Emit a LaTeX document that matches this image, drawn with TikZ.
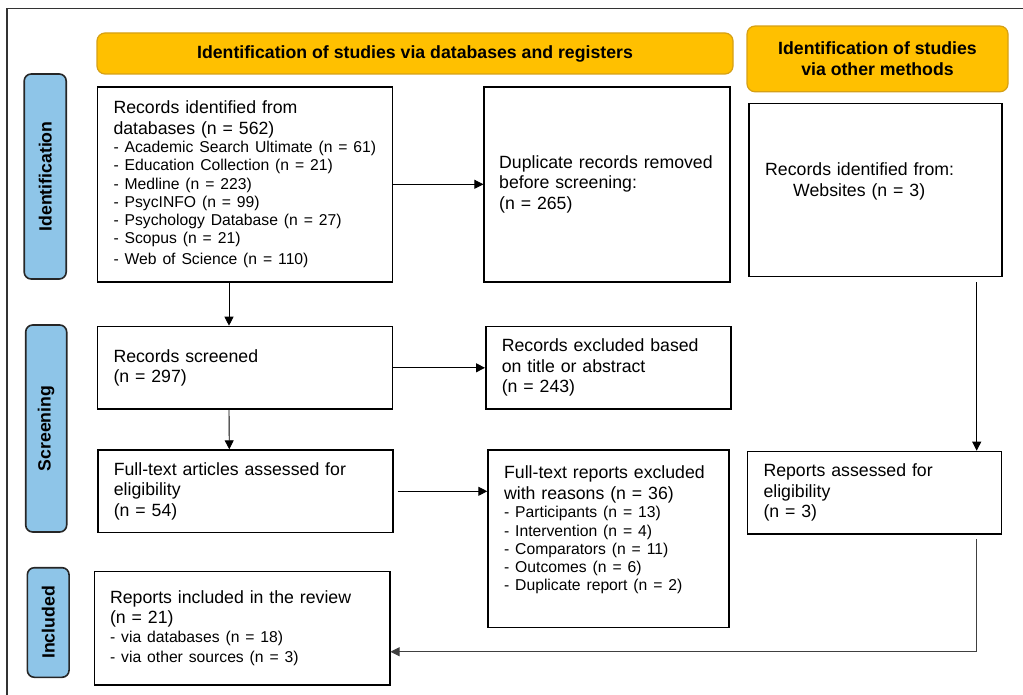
\documentclass[tikz,border=0pt]{standalone}
\usepackage{fontspec}
\setmainfont{Liberation Sans}
\usepackage{tikz}
\usetikzlibrary{arrows.meta}

\definecolor{headfill}{RGB}{255,192,0}
\definecolor{headline}{RGB}{214,160,20}
\definecolor{phasefill}{RGB}{142,197,232}
\newcommand{\boxfont}{\fontsize{17.7pt}{20.5pt}\selectfont}
\newcommand{\listfont}{\fontsize{15.7pt}{18.3pt}\selectfont}

\begin{document}
\begin{tikzpicture}[
  x=1pt, y=-1pt,
  head/.style={rectangle, draw=headline, fill=headfill, line width=1.2pt, rounded corners=8pt, align=center, font=\boxfont\bfseries},
  phase/.style={rectangle, draw=black!85, fill=phasefill, line width=1.6pt, rounded corners=7pt, rotate=90, font=\boxfont\bfseries},
  rec/.style={rectangle, draw, line width=1.6pt, anchor=north west, align=left, inner xsep=16pt, font=\boxfont},
  arrow/.style={-{Triangle[length=9pt, width=9pt]}, line width=0.9pt},
]
  \useasboundingbox (0,0) rectangle (1023,695);

  % Outer frame
  \draw[black!80, line width=1.4pt] (7,695) -- (7,8.5) -- (1023,8.5);

  % Headers
  \node[head, minimum width=636pt, minimum height=41pt] (hdb) at (415,53.5) {Identification of studies via databases and registers};
  \node[head, minimum width=261pt, minimum height=65.7pt] (hoth) at (877.5,58.9) {Identification of studies\\via other methods};

  % Phases
  \node[phase, minimum width=205pt, minimum height=42pt] (pid) at (45.2,176.5) {Identification};
  \node[phase, minimum width=207pt, minimum height=41pt] (pscr) at (46.2,428.5) {Screening};
  \node[phase, minimum width=109.6pt, minimum height=41.7pt] (pinc) at (48.2,622.5) {Included};

  % Identification
  \node[rec, text width=263pt, minimum height=195pt] (db) at (96.7,86) {Records identified from\\databases (n = 562)\par
    \listfont - Academic Search Ultimate (n = 61)\\- Education Collection (n = 21)\\- Medline (n = 223)\\- PsycINFO (n = 99)\\- Psychology Database (n = 27)\\- Scopus (n = 21)\\- Web of Science (n = 110)};
  \node[rec, text width=216pt, inner xsep=15pt, minimum height=195pt] (dup) at (483.4,86) {Duplicate records removed\\before screening:\\(n = 265)};
  \node[rec, text width=221pt, minimum height=173pt] (web) at (748.4,102.7) {Records identified from:\\\hspace*{28pt}Websites (n = 3)\\\mbox{}};

  % Screening
  \node[rec, text width=263pt, minimum height=82.6pt] (scr) at (96.7,325.7) {Records screened\\(n = 297)};
  \node[rec, text width=213pt, minimum height=82.6pt] (excl) at (485,325.7) {Records excluded based\\on title or abstract\\(n = 243)};
  \node[rec, text width=263pt, minimum height=82.4pt] (ft) at (97,449.3) {Full-text articles assessed for\\eligibility\\(n = 54)};
  \node[rec, text width=209pt, minimum height=177.4pt] (ftx) at (487.3,449.3) {Full-text reports excluded\\with reasons (n = 36)\par
    \listfont - Participants (n = 13)\\- Intervention (n = 4)\\- Comparators (n = 11)\\- Outcomes (n = 6)\\- Duplicate report (n = 2)\\\mbox{}};
  \node[rec, text width=222pt, minimum height=82.6pt] (oth) at (746.7,450.7) {Reports assessed for\\eligibility\\(n = 3)};

  % Included
  \node[rec, text width=264pt, inner xsep=15.6pt, minimum height=113.3pt] (inc) at (93.7,570.7) {Reports included in the review\\(n = 21)\par
    \listfont - via databases (n = 18)\\- via other sources (n = 3)};

  % Arrows
  \draw[arrow] ([xshift=-16pt]db.south) -- ([xshift=-16pt]scr.north);
  \draw[arrow] (db.east) -- (dup.west);
  \draw[arrow] (scr.east) -- (excl.west);
  \draw[arrow] ([xshift=-16pt]scr.south) -- ([xshift=-16pt]ft.north);
  \draw[arrow, shorten <=4pt] (ft.east) -- (ft.east -| ftx.west);
  \coordinate (drop) at ([xshift=101pt]web.south);
  \draw[arrow, shorten <=5pt] (drop) -- (drop |- oth.north);
  \draw[arrow, black!75, shorten <=4pt] (oth.south -| drop) |- ([yshift=-23.6pt]inc.east);
\end{tikzpicture}
\end{document}
